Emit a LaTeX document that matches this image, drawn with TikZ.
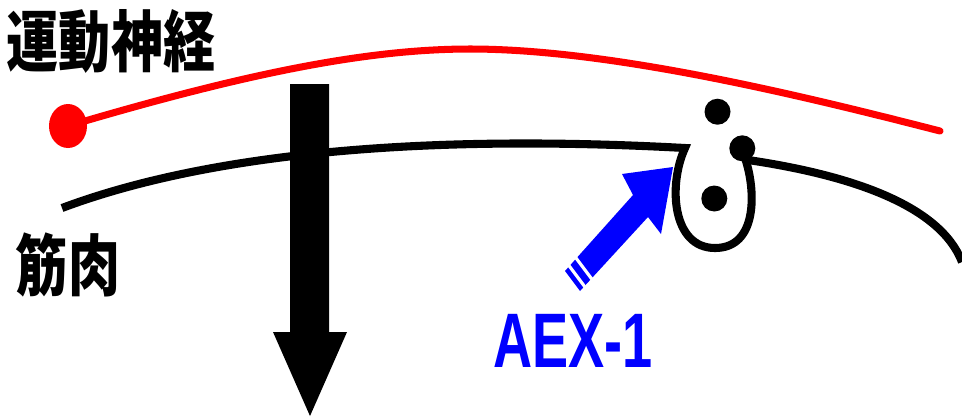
\documentclass[tikz,border=0pt]{standalone}
\usepackage{fontspec}
\usepackage{tikz}
\newfontfamily\jpfont{Noto Sans CJK JP}
\newfontfamily\labfont{Liberation Sans}
\definecolor{nerve}{RGB}{255, 0, 0}
\definecolor{drug}{RGB}{0, 0, 255}

\tikzset{
  jplabel/.style={inner sep=0pt, font=\jpfont\bfseries\fontsize{38}{38}\selectfont},
  druglabel/.style={inner sep=0pt, text=drug, font=\labfont\bfseries\fontsize{44}{44}\selectfont},
  muscle/.style={black, line width=4.6pt},
}

\begin{document}
\begin{tikzpicture}[x=0.02cm,y=-0.02cm]
\useasboundingbox (0,0) rectangle (962,417);
% nerve
\fill[nerve] (68,126) ellipse [x radius=19, y radius=22];
\draw[nerve,line width=4pt,line cap=round] (68,126) .. controls (250,72) and (370,49) .. (470,49) .. controls (610,49) and (800,95) .. (940,131);
% muscle with the junction loop
\draw[muscle] (62,208) .. controls (190,160) and (390,132) .. (685,148) .. controls (668,185) and (672,248) .. (715,248) .. controls (758,248) and (756,190) .. (745,158);
\draw[muscle] (748,160) .. controls (850,175) and (940,205) .. (962,262);
\fill (717.5,111.7) circle [radius=13];
\fill (742.3,148.3) circle [radius=13];
\fill (714.3,198.5) circle [radius=13];
% contraction
\fill (290,84) -- (329,84) -- (329,332) -- (347,332) -- (310,416) -- (273,332) -- (290,332) -- cycle;
% AEX-1 arrow
\fill[drug] (565,271) -- (633,195) -- (622,174) -- (673,167) -- (661,234) -- (648,217) -- (580,291) -- cycle;
\draw[white,line width=1.8pt] (567.5,263.7) -- (586.1,288.5);
\draw[white,line width=1.8pt] (574.4,255.9) -- (593,280.7);
% labels
\node[jplabel] (nervelab) at (111,41) {\scalebox{0.78}[1]{運動神経}};
\node[jplabel] (musclelab) at (68,265) {\scalebox{0.78}[1]{筋肉}};
\node[druglabel] (aexlab) at (573,340.5) {\scalebox{0.7}[1]{AEX-1}};
\end{tikzpicture}
\end{document}
